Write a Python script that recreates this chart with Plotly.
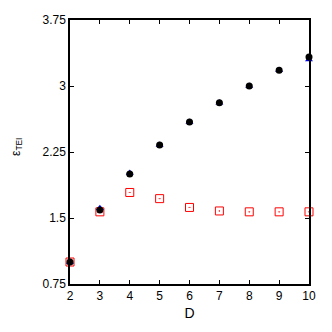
import plotly.graph_objects as go

D = [2, 3, 4, 5, 6, 7, 8, 9, 10]
eps_square = [1.0, 1.57, 1.79, 1.72, 1.62, 1.58, 1.57, 1.57, 1.57]
eps_triangle = [1.0, 1.61, 2.01, 2.33, 2.59, 2.81, 3.0, 3.18, 3.30]
eps_circle = [1.0, 1.59, 2.0, 2.33, 2.59, 2.81, 3.0, 3.18, 3.33]
y_ticks = [0.75, 1.5, 2.25, 3, 3.75]
y_tick_labels = ["0.75", "1.5", "2.25", "3", "3.75"]
x_ticks = [2, 3, 4, 5, 6, 7, 8, 9, 10]

fig = go.Figure()
fig.add_trace(go.Scatter(x=D, y=eps_square, mode="markers", cliponaxis=False,
                         marker=dict(symbol="square-open-dot", size=8, color="red", line=dict(width=1))))
fig.add_trace(go.Scatter(x=D, y=eps_triangle, mode="markers", cliponaxis=False,
                         marker=dict(symbol="triangle-up", size=7, color="blue")))
fig.add_trace(go.Scatter(x=D, y=eps_circle, mode="markers", cliponaxis=False,
                         marker=dict(symbol="circle", size=7, color="black")))

axis_common = dict(showgrid=False, zeroline=False, showline=True, linecolor="black", linewidth=1.5,
                   mirror="ticks", ticks="inside", ticklen=4, tickcolor="black", tickwidth=1)
fig.update_xaxes(range=[2, 10], tickvals=x_ticks, title=dict(text="D", standoff=6), **axis_common)
fig.update_yaxes(range=[0.75, 3.75], tickvals=y_ticks, ticktext=y_tick_labels, **axis_common)
fig.add_annotation(text="ε<sub>TEI</sub>", textangle=-90, xref="paper", yref="paper",
                   x=-0.225, y=0.52, xanchor="center", yanchor="middle", showarrow=False,
                   font=dict(size=12))
fig.update_layout(width=316, height=316, margin=dict(l=62, r=15, t=5, b=33),
                  plot_bgcolor="white", paper_bgcolor="white", showlegend=False, hovermode=False,
                  font=dict(family="Liberation Sans, Arial, sans-serif", size=12, color="black"))
fig.write_html("out.html")
